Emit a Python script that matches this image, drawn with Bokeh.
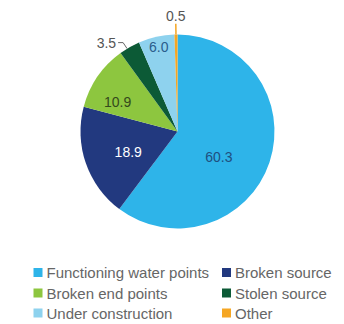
import math
from bokeh.plotting import figure
from bokeh.models import Range1d, ColumnDataSource
from bokeh.core.properties import value
from bokeh.embed import file_html
from bokeh.resources import INLINE

# ---- data ----
categories = ["Functioning water points", "Broken source", "Broken end points",
              "Stolen source", "Under construction", "Other"]
values = [60.3, 18.9, 10.9, 3.5, 6.0, 0.5]
labels = ["60.3", "18.9", "10.9", "3.5", "6.0", "0.5"]

# ---- styles ----
colors = ["#2eb4e9", "#22397f", "#8dc63f", "#0c5a36", "#8ed2ee", "#f5a623"]
label_colors = ["#1f4f80", "#ffffff", "#34491c", "#555555", "#2a5d8c", "#555555"]
label_rfrac = [0.50, 0.55, 0.69, None, 0.89, None]
label_afrac = [0.56, 0.45, 0.30, 0.5, 0.50, 0.5]

W, H = 344, 324
CX, CY, R = 177, 324 - 131, 97

p = figure(width=W, height=H, x_range=Range1d(0, W), y_range=Range1d(0, H),
           output_backend="svg", toolbar_location=None, min_border=0)
p.axis.visible = False
p.grid.visible = False
p.outline_line_color = None
p.background_fill_color = "white"
p.border_fill_color = "white"

total = sum(values)
starts, ends, mids = [], [], []
acc = 0.0
for v in values:
    a0 = acc / total * 2 * math.pi
    acc += v
    a1 = acc / total * 2 * math.pi
    starts.append(math.pi / 2 - a0)
    ends.append(math.pi / 2 - a1)
    mids.append((a0, a1))

src = ColumnDataSource(dict(start=starts, end=ends, color=colors))
p.wedge(x=CX, y=CY, radius=R, start_angle="start", end_angle="end",
        direction="clock", fill_color="color", line_color=None, source=src)

def pt(angle_cw, r):
    return CX + r * math.sin(angle_cw), CY + r * math.cos(angle_cw)

# inside labels
for i, lab in enumerate(labels):
    a0, a1 = mids[i]
    if label_rfrac[i] is not None:
        ang = a0 + (a1 - a0) * label_afrac[i]
        x, y = pt(ang, R * label_rfrac[i])
        p.text(x=[x], y=[y], text=[lab], text_color=label_colors[i],
               text_font=value("Liberation Sans"), text_font_size="14px",
               text_align="center", text_baseline="middle")

# leader for stolen source (index 3)
a0, a1 = mids[3]
ang = a0 + (a1 - a0) * 0.37
x1, y1 = pt(ang, R)
x2, y2 = x1 - 4, y1 + 6
x3, y3 = x2 - 5, y2
p.line([x1, x2, x3], [y1, y2, y3], line_color="#666666", line_width=1)
p.text(x=[x3 - 2], y=[y3], text=[labels[3]], text_color=label_colors[3],
       text_font=value("Liberation Sans"), text_font_size="14px",
       text_align="right", text_baseline="middle")

# leader for other (index 5)
a0, a1 = mids[5]
ang = (a0 + a1) / 2
xa, ya = pt(ang, R)
xb, yb = pt(ang, R * 1.11)
p.line([xa, xb], [ya, yb], line_color=colors[5], line_width=1.5)
xt, yt = pt(ang, R * 1.19)
p.text(x=[xt], y=[yt], text=[labels[5]], text_color=label_colors[5],
       text_font=value("Liberation Sans"), text_font_size="14px",
       text_align="center", text_baseline="middle")

# legend (two columns)
col_x = [37.5, 226]
row_y = [272, 292.5, 312.5]
order = [0, 2, 4, 1, 3, 5]
for k, idx in enumerate(order):
    cx = col_x[k // 3]
    cy = H - row_y[k % 3]
    p.rect(x=[cx], y=[cy], width=9, height=9, fill_color=colors[idx], line_color=None)
    p.text(x=[cx + 8.5], y=[cy], text=[categories[idx]], text_color="#666666",
           text_font=value("Liberation Sans"), text_font_size="15px",
           text_align="left", text_baseline="middle")

open("out.html", "w").write(file_html(p, INLINE))
